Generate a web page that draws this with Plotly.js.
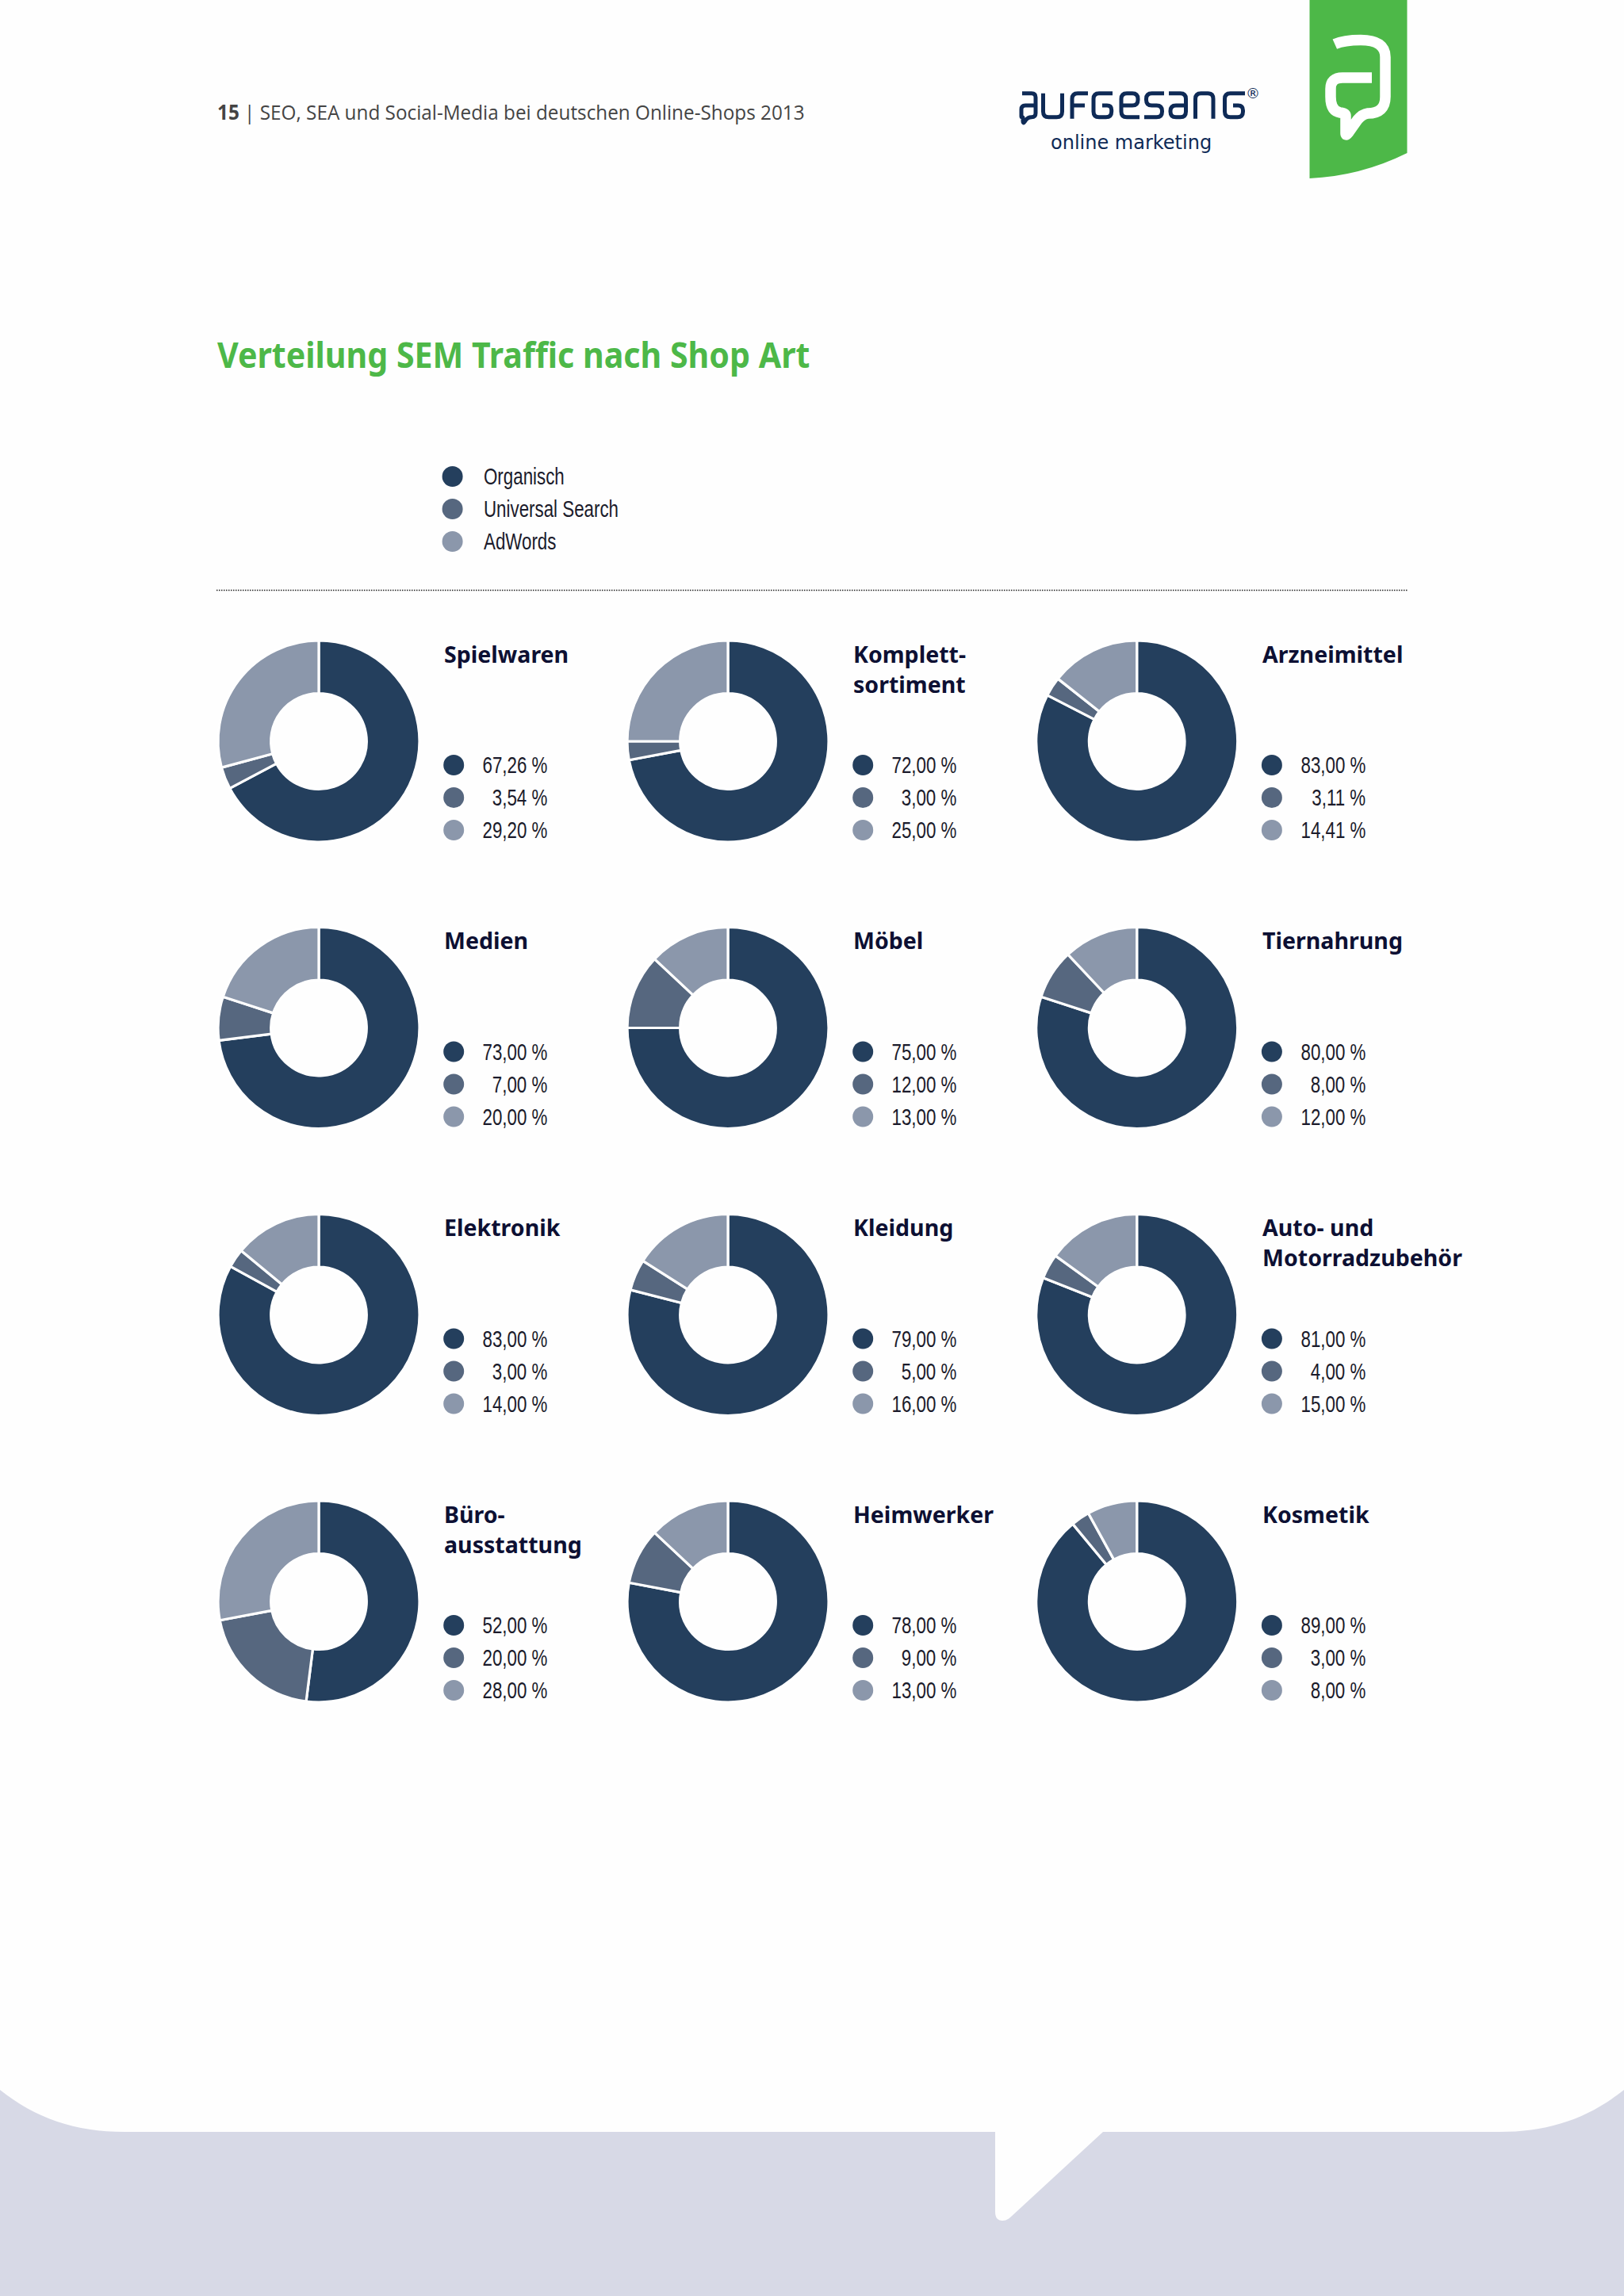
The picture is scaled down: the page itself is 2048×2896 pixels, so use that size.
<!DOCTYPE html>
<html><head><meta charset="utf-8">
<script src="https://cdn.plot.ly/plotly-3.0.1.min.js"></script>
<style>html,body{margin:0;padding:0;background:#fefefe}#c{width:2048px;height:2896px}
.shapelayer path{stroke-linejoin:round}</style>
</head><body><div id="c"></div>
<script>
// ---- data ----
const seriesNames = ['Organisch', 'Universal Search', 'AdWords'];
const shops = ['Spielwaren', 'Komplett-<br>sortiment', 'Arzneimittel',
  'Medien', 'Möbel', 'Tiernahrung',
  'Elektronik', 'Kleidung', 'Auto- und<br>Motorradzubehör',
  'Büro-<br>ausstattung', 'Heimwerker', 'Kosmetik'];
const organisch = [67.26, 72, 83, 73, 75, 80, 83, 79, 81, 52, 78, 89];
const universal = [3.54, 3, 3.11, 7, 12, 8, 3, 5, 4, 20, 9, 3];
const adwords = [29.2, 25, 14.41, 20, 13, 12, 14, 16, 15, 28, 13, 8];
const pageTitle = 'Verteilung SEM Traffic nach Shop Art';
const headerText = '<b>15</b> | SEO, SEA und Social-Media bei deutschen Online-Shops 2013';
const logoSub = 'online marketing';

// ---- style / layout ----
const W = 2048, H = 2896;
const colors = ['#243f5d', '#56677f', '#8b97ab'];
const green = '#4db848', navy = '#0e2a56', ink = '#1b1b2b', titleInk = '#0d1033';
const narrow = '"Liberation Sans", sans-serif';
const colX = [402, 918, 1433.7];
const rowY = [935, 1296.5, 1658.5, 2020];
const R = 127;

const traces = [], annotations = [], shapes = [], squeeze = [];
const swX = [], swY = [], swC = [];

function note(x, y, text, size, family, color, xanchor, yanchor, sq) {
  annotations.push({xref:'x', yref:'y', x, y, text, showarrow:false,
    xanchor:xanchor||'left', yanchor:yanchor||'middle', align:xanchor==='right'?'right':(xanchor==='center'?'center':'left'),
    borderpad:0, font:{size, family, color}});
  squeeze.push(sq || 1);
}
shops.forEach((name, i) => {
  const cx = colX[i % 3], cy = rowY[Math.floor(i / 3)];
  traces.push({type:'pie', values:[organisch[i], universal[i], adwords[i]], labels:seriesNames,
    hole:0.475, sort:false, direction:'clockwise', rotation:0, textinfo:'none', hoverinfo:'skip',
    marker:{colors, line:{color:'#ffffff', width:3.2}},
    domain:{x:[(cx-R)/W, (cx+R)/W], y:[1-(cy+R)/H, 1-(cy-R)/H]}, showlegend:false});
  note(cx+157.2, cy-131.5, '<b>' + name.replace('<br>', '</b><br><b>') + '</b>', 29, '"Noto Sans", sans-serif', titleInk, 'left', 'top', 0.985);
  [organisch[i], universal[i], adwords[i]].forEach((v, k) => {
    const y = cy + 30 + 41 * k;
    swX.push(cx + 170.2); swY.push(y); swC.push(colors[k]);
    note(cx + 289.2, y, v.toFixed(2).replace('.', ',') + ' %', 29, narrow, ink, 'right', 'middle', 0.77);
  });
});
seriesNames.forEach((n, k) => {
  const y = 601 + 41 * k;
  swX.push(570.6); swY.push(y); swC.push(colors[k]);
  note(609, y, n, 29, narrow, ink, 'left', 'middle', 0.77);
});
traces.push({type:'scatter', mode:'markers', x:swX, y:swY, xaxis:'x', yaxis:'y', hoverinfo:'skip',
  showlegend:false, marker:{size:26, color:swC, line:{width:0}}});

note(273, 447, '<b>'+pageTitle+'</b>', 44, '"Noto Sans", sans-serif', green, 'left', 'middle', 0.935);
note(273, 141, headerText, 26, '"Open Sans", sans-serif', '#444', 'left', 'middle', 0.935);
note(1426, 180, logoSub, 24, '"DejaVu Sans", sans-serif', navy, 'center');
note(1580, 117, '®', 18, '"DejaVu Sans", sans-serif', navy, 'center');

// rounded polyline for logo strokes
function rp(pts, r) {
  let d = 'M' + pts[0][0] + ',' + pts[0][1];
  for (let i = 1; i < pts.length - 1; i++) {
    const [x0,y0]=pts[i-1],[x1,y1]=pts[i],[x2,y2]=pts[i+1];
    const a=Math.hypot(x1-x0,y1-y0), b=Math.hypot(x2-x1,y2-y1), q=Math.min(r,a/2,b/2);
    d += ' L'+(x1-(x1-x0)/a*q)+','+(y1-(y1-y0)/a*q)+' Q'+x1+','+y1+' '+(x1+(x2-x1)/b*q)+','+(y1+(y2-y1)/b*q);
  }
  const l = pts[pts.length-1];
  return d + ' L' + l[0] + ',' + l[1];
}
function stroke(path, color, width) {
  shapes.push({type:'path', xref:'x', yref:'y', path, line:{color, width}, layer:'above'});
}
// page decoration
shapes.push({type:'path', xref:'x', yref:'y', layer:'below', line:{width:0}, fillcolor:'#d7d9e6',
  path:'M0,2636 C45,2672 95,2689 157,2689 L1255,2689 L1255,2790 Q1255,2801 1264,2801 Q1270,2801 1275,2796 L1391,2689 L1891,2689 C1953,2689 2003,2672 2048,2636 L2048,2896 L0,2896 Z'});
shapes.push({type:'path', xref:'x', yref:'y', layer:'below', line:{width:0}, fillcolor:green,
  path:'M1651.5,0 L1774.5,0 L1774.5,193 Q1716,222 1651.5,225 Z'});
shapes.push({type:'line', xref:'x', yref:'y', x0:273, x1:1775, y0:744.5, y1:744.5, layer:'below',
  line:{color:'#222', width:1.6, dash:'1.5px,1.5px'}});
// bubble icon
stroke('M1683.3,55.7 Q1695,50.5 1716,50.5 Q1747,50.5 1747,72 L1747,122 Q1747,143 1725,143 Q1718,144 1712,151 L1700,168 Q1697,172 1697,168 L1697,146 Q1697,143 1690,142 Q1678,140 1678,122 L1678,112 Q1678,98 1693,98 L1730,98', '#ffffff', 13.5);
// wordmark
const T=117.7,B=147.7,M=133,lw=5,r=7;
stroke(rp([[1289,T],[1306,T],[1306,B],[1296,B],[1290,157],[1290,B],[1288,B],[1288,M],[1306,M]],5), navy, lw);
stroke(rp([[1315.5,T],[1315.5,B],[1339.5,B],[1339.5,T]],r), navy, lw);
stroke(rp([[1372,T],[1352,T],[1352,B+2]],r), navy, lw);
stroke(rp([[1352,M],[1368,M]],0), navy, lw);
stroke(rp([[1403,T],[1379,T],[1379,B],[1401.7,B],[1401.7,M],[1390,M]],r), navy, lw);
stroke(rp([[1414,M],[1435,M],[1435,T],[1414,T],[1414,B],[1437,B]],r), navy, lw);
stroke(rp([[1468,T],[1445.5,T],[1445.5,M],[1465.5,M],[1465.5,B],[1443,B]],r), navy, lw);
stroke(rp([[1474,T],[1495.5,T],[1495.5,B],[1476,B],[1476,M],[1495.5,M]],r), navy, lw);
stroke(rp([[1507.5,B+2],[1507.5,T],[1530,T],[1530,B+2]],r), navy, lw);
stroke(rp([[1570,T],[1544.5,T],[1544.5,B],[1567.5,B],[1567.5,M],[1555,M]],r), navy, lw);

Plotly.newPlot('c', traces, {
  width:W, height:H, margin:{l:0,r:0,t:0,b:0}, paper_bgcolor:'#fefefe', plot_bgcolor:'rgba(0,0,0,0)',
  showlegend:false, annotations, shapes,
  xaxis:{range:[0,W], visible:false, fixedrange:true},
  yaxis:{range:[H,0], visible:false, fixedrange:true}
}, {displayModeBar:false, staticPlot:true}).then(() => {
  // condense text horizontally about its anchor (the reference face is a condensed one)
  document.querySelectorAll('.annotation').forEach(a => {
    const s = squeeze[+a.getAttribute('data-index')];
    const t = a.querySelector('text');
    if (s !== 1 && t) {
      const x0 = parseFloat(t.getAttribute('x')) || 0;
      t.setAttribute('transform', 'translate(' + x0 + ',0) scale(' + s + ',1) translate(' + (-x0) + ',0)');
    }
  });
});
</script></body></html>
